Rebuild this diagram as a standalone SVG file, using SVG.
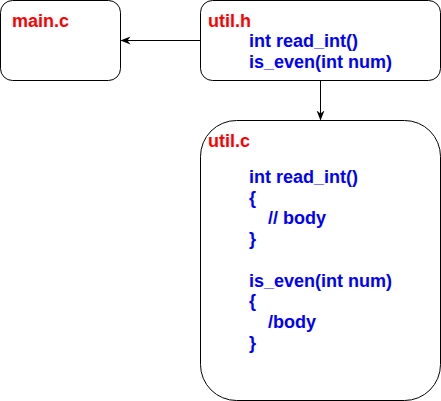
<svg xmlns="http://www.w3.org/2000/svg" width="441" height="401" viewBox="0 0 441 401">
<defs>
<style>
.box{fill:#fff;stroke:#000;stroke-width:1}
.t{font-family:"Liberation Sans",Arial,Helvetica,sans-serif;font-weight:bold;font-size:18px}
.title{fill:#ff0000}
.code{fill:#0000ff}
.edge{stroke:#000;stroke-width:1;fill:none}
</style>
<marker id="arr" viewBox="0 0 10 10" refX="9" refY="5" markerWidth="10" markerHeight="10" markerUnits="userSpaceOnUse" orient="auto">
<path d="M0,1 L10,5 L0,9 L3,5 Z" fill="#000"/>
</marker>
</defs>
<g id="connectors">
<path class="edge" d="M200.5,40.5 L121.5,40.5" marker-end="url(#arr)"/>
<path class="edge" d="M320.5,80.5 L320.5,119.5" marker-end="url(#arr)"/>
</g>
<g id="main_c">
<rect class="box" x="0.5" y="0.5" width="120" height="80" rx="12" ry="12"/>
<text class="t title" x="12" y="27">main.c</text>
</g>
<g id="util_h">
<rect class="box" x="200.5" y="0.5" width="240" height="80" rx="12" ry="12"/>
<text class="t title" x="208" y="26.5">util.h</text>
<text class="t code" x="249" y="47">int read_int()</text>
<text class="t code" x="249" y="67.5">is_even(int num)</text>
</g>
<g id="util_c">
<rect class="box" x="200.5" y="120.5" width="240" height="280" rx="36" ry="36"/>
<text class="t title" x="208" y="147">util.c</text>
<text class="t code" x="249" y="183">int read_int()</text>
<text class="t code" x="249" y="203.7">{</text>
<text class="t code" x="268" y="224.4">// body</text>
<text class="t code" x="249" y="245.1">}</text>
<text class="t code" x="249" y="286.5">is_even(int num)</text>
<text class="t code" x="249" y="307.2">{</text>
<text class="t code" x="268" y="327.9">/body</text>
<text class="t code" x="249" y="348.6">}</text>
</g>
</svg>
